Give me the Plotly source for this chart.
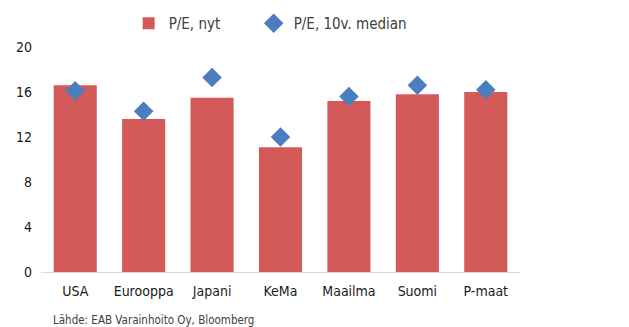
import plotly.graph_objects as go

categories = ["USA", "Eurooppa", "Japani", "KeMa", "Maailma", "Suomi", "P-maat"]
pe_now = [16.6, 13.6, 15.5, 11.1, 15.2, 15.8, 16.0]
pe_median = [16.1, 14.3, 17.3, 12.0, 15.6, 16.6, 16.2]
y_ticks = [0, 4, 8, 12, 16, 20]
source_text = "Lähde: EAB Varainhoito Oy, Bloomberg"

FONT = "DejaVu Sans Condensed, Liberation Sans, sans-serif"

fig = go.Figure()
fig.add_trace(go.Bar(
    x=categories, y=pe_now, name="P/E, nyt",
    marker=dict(color="#D45A5A", line=dict(width=0)),
    width=0.63, legend="legend",
))
fig.add_trace(go.Scatter(
    x=categories, y=pe_median, name="P/E, 10v. median", mode="markers",
    marker=dict(symbol="diamond", size=15, color="#4A7EBF", line=dict(width=0)),
    legend="legend2",
))

legend_common = dict(
    orientation="h", y=0.928, yanchor="middle", yref="container",
    itemwidth=30, font=dict(size=15, color="#404040"),
    bgcolor="rgba(0,0,0,0)",
)

fig.update_layout(
    width=629, height=327,
    margin=dict(l=41, r=109, t=47, b=55, autoexpand=False),
    paper_bgcolor="white", plot_bgcolor="white",
    font=dict(family=FONT, size=14, color="#1a1a1a"),
    showlegend=True,
    legend=dict(x=0.183, xanchor="left", **legend_common),
    legend2=dict(x=0.444, xanchor="left", **legend_common),
    xaxis=dict(
        showline=True, linecolor="#D9D9D9", linewidth=1,
        ticks="", showgrid=False, tickfont=dict(size=14, color="#1a1a1a"),
        ticklabelstandoff=6,
    ),
    yaxis=dict(
        range=[0, 20], tickvals=y_ticks, showgrid=False, zeroline=False,
        showline=False, ticks="", tickfont=dict(size=14, color="#1a1a1a"),
        ticklabelstandoff=8,
    ),
    annotations=[dict(
        text=source_text, xref="paper", yref="paper", x=0.02, y=-0.212,
        xanchor="left", yanchor="middle", showarrow=False,
        font=dict(size=11.5, color="#404040"),
    )],
)

fig.write_html("out.html")
